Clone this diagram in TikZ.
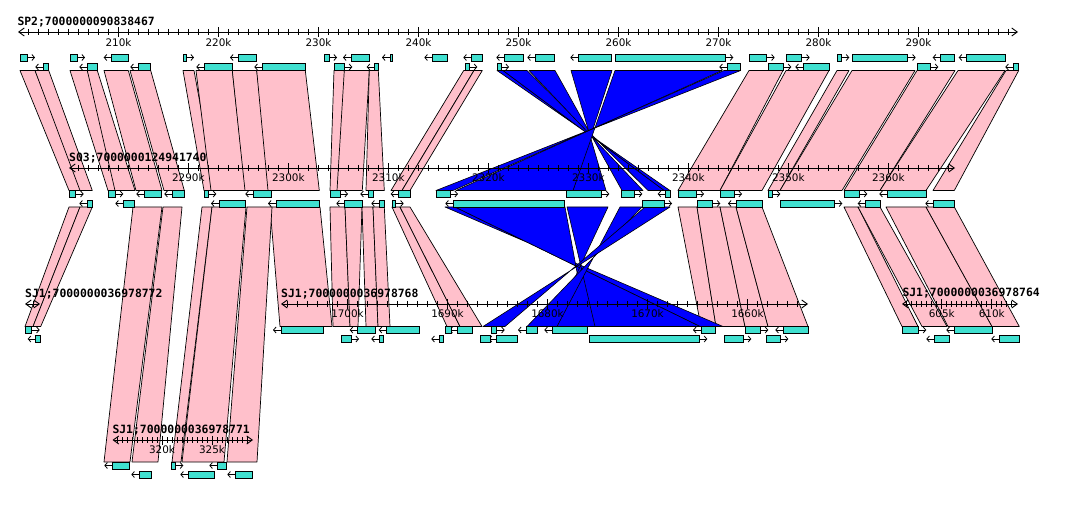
\documentclass[tikz,border=0pt]{standalone}
\usepackage{fontspec}
\newfontfamily\lblfont{DejaVu Sans Mono}
\newfontfamily\tkfont{DejaVu Sans}
\usetikzlibrary{arrows.meta}
\definecolor{geneC}{HTML}{40E0D0}
\definecolor{pinkC}{HTML}{FFC0CB}
\definecolor{blueC}{HTML}{0000FF}
\tikzset{
  gene/.style={draw=black, fill=geneC, line width=0.9pt},
  garr/.style={-{Straight Barb[length=2.6pt,width=6pt]}, line width=0.8pt},
  hitpink/.style={draw=black, fill=pinkC, line width=0.7pt, line join=round},
  hitblue/.style={draw=black, fill=blueC, line width=0.6pt, line join=round},
  axisline/.style={{Straight Barb[length=5.5pt,width=8pt]}-{Straight Barb[length=5.5pt,width=8pt]}, line width=0.9pt},
  tickmark/.style={line width=0.8pt},
  seqlabel/.style={font=\lblfont\bfseries\fontsize{11.4}{12}\selectfont, anchor=west, inner sep=0pt},
  ticklabel/.style={font=\tkfont\fontsize{10.4}{11}\selectfont, inner sep=0pt}
}
\newcommand\geneR[3]{\draw[garr] (#2,#3+3.5) -- ({#2+8},#3+3.5); \draw[gene] (#1,#3) rectangle (#2,#3+7);}
\newcommand\geneL[3]{\draw[garr] (#1,#3+3.5) -- ({#1-8},#3+3.5); \draw[gene] (#1,#3) rectangle (#2,#3+7);}
\newcommand\geneN[3]{\draw[gene] (#1,#3) rectangle (#2,#3+7);}
\newcommand\hitP[6]{\draw[hitpink] (#1,#5) -- (#2,#5) -- (#4,#6) -- (#3,#6) -- cycle;}
\newcommand\hitB[6]{\draw[hitblue] (#1,#5) -- (#2,#5) -- (#3,#6) -- (#4,#6) -- cycle;}
\begin{document}
\begin{tikzpicture}[x=1pt,y=-1pt]
\useasboundingbox (0,0) rectangle (1068,510);
\fill[white] (0,0) rectangle (1068,510);

% ---------- band 1 pink ----------
\foreach \a/\b/\c/\d in {20/35/69/83, 35/48.7/80/92.3, 70/87.3/108/123, 87.3/97.3/115/135,
  104/128.3/136/162, 130/150.7/164/184.3, 183/194/204/216, 196/232.3/211/245.7,
  232.3/256.7/245/271.7, 256.7/305.3/268/319.3, 334/344.3/330/348, 344.3/369.3/337/362.3,
  369.3/378.3/366/384.3, 463.7/474/391/402, 474/482.3/402/410,
  749/783/678/720, 786/829/720/762, 837/849/768/780, 852/915/780/842,
  917/955/844/880, 958/1005/880/926, 1006/1018.7/933/954.3}
  {\hitP{\a}{\b}{\c}{\d}{70.5}{190.5}}
% ---------- band 1 blue ----------
\foreach \a/\b/\c/\d in {497/503/664/670, 503/527/648/664, 529/555/622/643,
  571/612/573/606, 615/722/456/573, 724/740.7/436/453}
  {\hitB{\a}{\b}{\c}{\d}{70.5}{190.5}}

% ---------- band 2 pink ----------
\foreach \a/\b/\c/\d in {69/80/25/33, 80/92.3/33/40.7, 270/320/280/332,
  330/345/333/350, 345/362/350/358, 362/373/366/378, 373/384.3/378/390,
  392/400/447/460, 400/410/460/482,
  678/697/701/716, 697/720/716/745, 720/736/745/768, 736/762/768/808,
  844/858/902/918, 858/880/922/947, 886/926/948/992, 926/954.3/992/1019.3}
  {\hitP{\a}{\b}{\c}{\d}{207}{326.5}}
% ---------- band 2 blue ----------
\foreach \a/\b/\c/\d in {445/455/700/723, 455/565/587/700, 567/608/552/595,
  620/642/527/557, 645/670/483/505}
  {\hitB{\a}{\b}{\c}{\d}{207}{326.5}}
% ---------- long bands to track 4 ----------
\foreach \a/\b/\c/\d in {133/162/104/130, 163/182/132/158, 202/212/172/181,
  212/246/182/224, 247/272/227/257}
  {\hitP{\a}{\b}{\c}{\d}{207}{462}}

% ---------- axes ----------
\draw[axisline] (18,32) -- (1018,32);
\foreach \i in {1,...,99} {\draw[tickmark] ({18.5+10*\i},29) -- ({18.5+10*\i},35);}
\foreach \i/\t in {1/210k,2/220k,3/230k,4/240k,5/250k,6/260k,7/270k,8/280k,9/290k}
  {\draw[tickmark] ({18.5+100*\i},27.5) -- ({18.5+100*\i},37);
   \node[ticklabel] at ({18.5+100*\i},42.5) {\t};}

\draw[axisline] (69,168) -- (955,168);
\foreach \i in {0,...,87} {\draw[tickmark] ({78.3+10*\i},165) -- ({78.3+10*\i},171);}
\foreach \i/\t in {0/2290k,1/2300k,2/2310k,3/2320k,4/2330k,5/2340k,6/2350k,7/2360k}
  {\draw[tickmark] ({188.3+100*\i},163.5) -- ({188.3+100*\i},173);
   \node[ticklabel] at ({188.3+100*\i},177.5) {\t};}

\draw[axisline] (25,304) -- (40,304);
\draw[tickmark] (33,301) -- (33,307);

\draw[axisline] (281,304) -- (808,304);
\foreach \i in {0,...,51} {\draw[tickmark] ({287.5+10*\i},301) -- ({287.5+10*\i},307);}
\foreach \i/\t in {0/1700k,1/1690k,2/1680k,3/1670k,4/1660k}
  {\draw[tickmark] ({347.5+100*\i},299.5) -- ({347.5+100*\i},309);
   \node[ticklabel] at ({347.5+100*\i},313.5) {\t};}

\draw[axisline] (902,304) -- (1018,304);
\foreach \i in {0,...,21} {\draw[tickmark] ({906.7+5*\i},301) -- ({906.7+5*\i},307);}
\foreach \x/\t in {941.7/605k,991.7/610k}
  {\draw[tickmark] (\x,299.5) -- (\x,309);
   \node[ticklabel] at (\x,313.5) {\t};}

\draw[axisline] (112.5,440) -- (253,440);
\foreach \i in {0,...,26} {\draw[tickmark] ({117+5*\i},437) -- ({117+5*\i},443);}
\foreach \x/\t in {162/320k,212/325k}
  {\draw[tickmark] (\x,435.5) -- (\x,445);
   \node[ticklabel] at (\x,450) {\t};}

% ---------- labels ----------
\node[seqlabel] (l1) at (17.3,22) {SP2;7000000090838467};
\node[seqlabel] (l2) at (69,157.7) {S03;7000000124941740};
\node[seqlabel] (l3) at (25,293.7) {SJ1;7000000036978772};
\node[seqlabel] (l4) at (281,293.7) {SJ1;7000000036978768};
\node[seqlabel] (l5) at (902.3,293.5) {SJ1;7000000036978764};
\node[seqlabel] (l6) at (112.3,429.7) {SJ1;7000000036978771};

% ---------- genes track 1 ----------
\foreach \a/\b in {20/27, 70/77, 183/186, 324/329, 615.3/725.3, 749.3/766.7, 786.3/801.7,
  837.3/841.3, 852.3/907.7} {\geneR{\a}{\b}{54}}
\foreach \a/\b in {111.7/128.3, 238/256.7, 351/369.3, 390/392.7, 432.3/447.3, 471.3/482.3,
  504.3/523.3, 535.3/554.3, 578.3/611.3, 940.7/954.3, 966.7/1005.3} {\geneL{\a}{\b}{54}}
\foreach \a/\b in {334.3/344.3, 465.7/469.3, 497.3/501, 768.3/783.3, 917.3/930.3} {\geneR{\a}{\b}{63.5}}
\foreach \a/\b in {43.3/48.7, 87.3/97.3, 138.3/150.7, 204.3/232.3, 262.3/305.3, 374.7/378.3,
  727.3/740.7, 803.3/829.7, 1013.3/1018.7} {\geneL{\a}{\b}{63.5}}

% ---------- genes track 2 ----------
\foreach \a/\b in {69.3/75.7, 108.3/115.3, 204/208.3, 330/340, 436.3/450, 566.7/601.3,
  621.7/634.3, 678.3/696, 720.7/734, 768.3/772.3, 844.3/859.3} {\geneR{\a}{\b}{190.5}}
\foreach \a/\b in {144.3/161.7, 172.3/184.3, 253.3/271.7, 368.3/373.3, 398.7/410,
  665.7/670.7, 887.3/926.3} {\geneL{\a}{\b}{190.5}}
\foreach \a/\b in {392.7/395.7, 642.7/664, 697.7/712.3, 780/834.3} {\geneR{\a}{\b}{200}}
\foreach \a/\b in {87.3/92.3, 123.3/134.7, 219/245.7, 276/319.3, 344.3/362.3, 379.3/384.3,
  453.3/564.3, 736/762.3, 865.7/880.3, 933.3/954.3} {\geneL{\a}{\b}{200}}

% ---------- genes track 3 ----------
\foreach \a/\b in {25/31.7, 491.7/496.7, 745.3/760.3, 902.3/918.3} {\geneR{\a}{\b}{326.5}}
\foreach \a/\b in {281/323.3, 357.7/375, 386.7/419.3, 457.3/472.3, 526/537.7, 552.3/587.3,
  701/715, 783.3/808.3, 954.3/992.3} {\geneL{\a}{\b}{326.5}}
\geneN{445.7}{451.7}{326.5}
\foreach \a/\b in {341.7/351, 589.3/699.3, 724.3/743.3, 766.3/780.3} {\geneR{\a}{\b}{335.5}}
\foreach \a/\b in {35.7/40.7, 379.3/383.3, 439.3/443.7, 496.7/517.3, 934.3/949.3,
  999.3/1019.3} {\geneL{\a}{\b}{335.5}}
\geneN{480.3}{490}{335.5}

% ---------- genes track 4 ----------
\geneR{171.3}{175.3}{462}
\foreach \a/\b in {112.3/129.3, 217.3/226.7} {\geneL{\a}{\b}{462}}
\foreach \a/\b in {139.3/151.3, 188.3/214.3, 235.3/252.3} {\geneL{\a}{\b}{471}}
\end{tikzpicture}
\end{document}
